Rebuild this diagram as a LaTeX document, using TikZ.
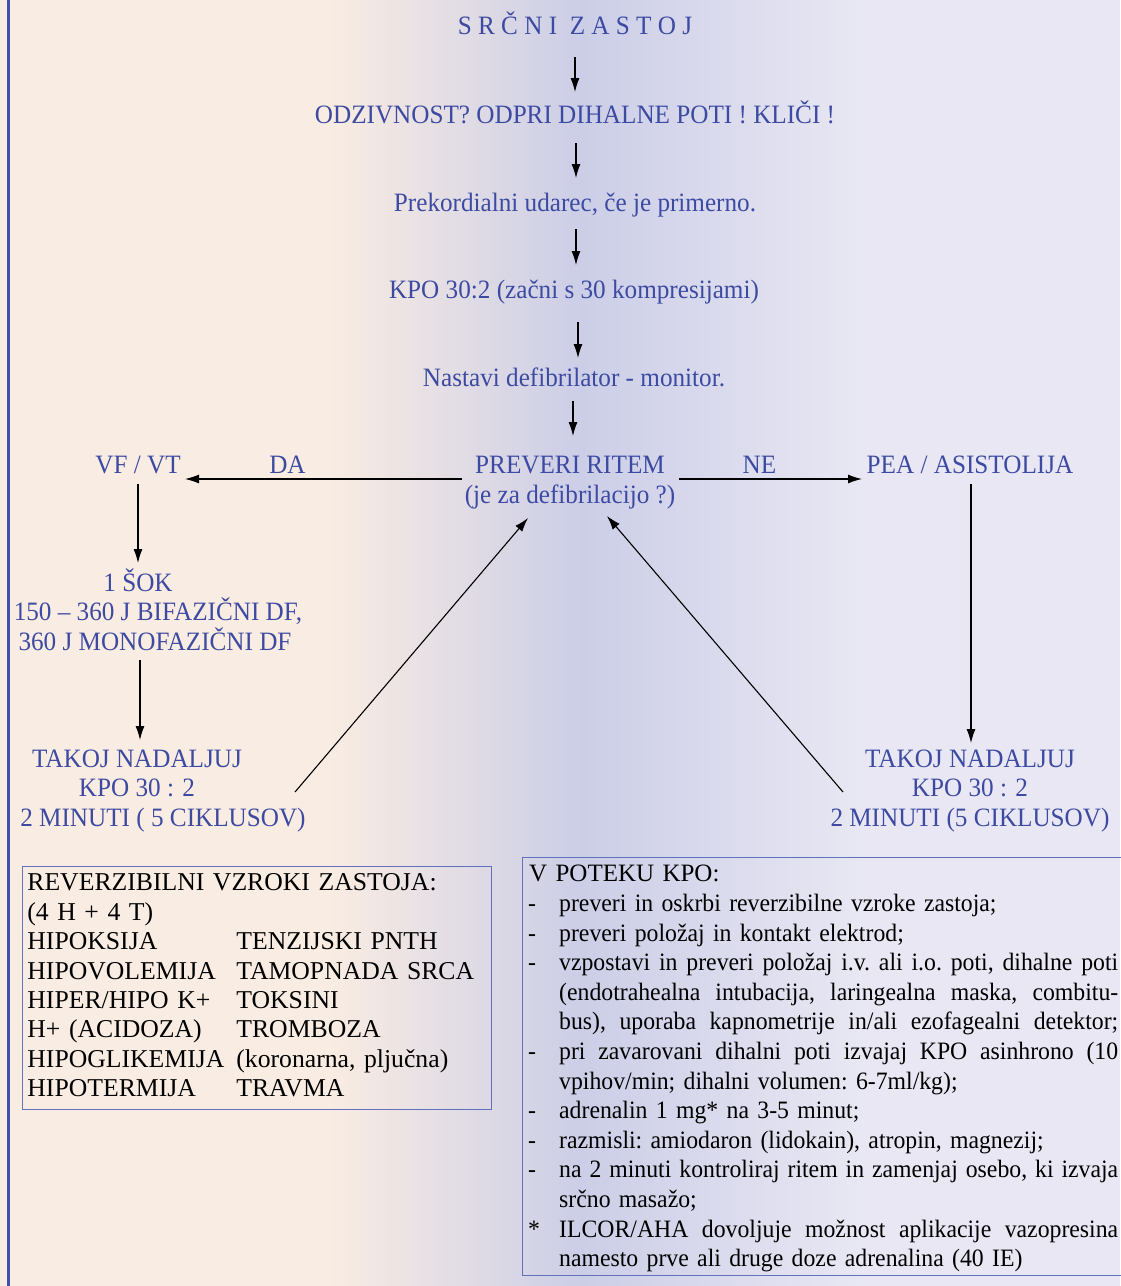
\documentclass[tikz,border=0pt]{standalone}
\usepackage{fontspec}
\setmainfont{Liberation Serif}
\newfontfamily\narrowserif[FakeStretch=0.95]{Liberation Serif}
\usetikzlibrary{arrows.meta,positioning}
\definecolor{flowblue}{RGB}{60,74,162}
\definecolor{peach}{RGB}{249,236,226}
\definecolor{lavdeep}{RGB}{204,206,231}
\definecolor{lavlight}{RGB}{232,231,243}
\definecolor{edgeblue}{RGB}{62,82,170}
\definecolor{boxblue}{RGB}{96,114,190}
\newcommand{\kpofull}[2]{\par\noindent\strut\makebox[35pt][l]{\hspace{4pt}#1}\hbox to 559pt{\spaceskip=.25em plus .6em minus .12em #2}}
\newcommand{\kpolast}[2]{\par\noindent\strut\makebox[35pt][l]{\hspace{4pt}#1}#2}

\begin{document}
\begin{tikzpicture}[x=1pt,y=-1pt,
  flow/.style={text=flowblue,font=\narrowserif\fontsize{26.5}{29.5}\selectfont,align=center,inner sep=0pt,anchor=base},
  arr/.style={-{Latex[length=14pt,width=9pt]},line width=1.1pt},
  boxtext/.style={font=\fontsize{25.7}{29.4}\selectfont,inner sep=0pt,anchor=north west}]
% background
\useasboundingbox (0,0) rectangle (1120,1286);
\fill[peach] (0,0) rectangle (331,1286);
\shade[left color=peach,right color=lavdeep] (330,0) rectangle (581,1286);
\shade[left color=lavdeep,right color=lavlight] (580,0) rectangle (861,1286);
\fill[lavlight] (860,0) rectangle (1120,1286);
\draw[edgeblue,line width=2.7pt] (8.7,0)--(8.7,1286);
% flow
\node[flow] (title) at (575,34) {S R Č N I \ Z A S T O J};
\node[flow] (check) at (575,123) {ODZIVNOST? ODPRI DIHALNE POTI ! KLIČI !};
\node[flow] (thump) at (575,211) {Prekordialni udarec, če je primerno.};
\node[flow] (cpr) at (574,298) {KPO 30:2 (začni s 30 kompresijami)};
\node[flow] (monitor) at (574,386) {Nastavi defibrilator - monitor.};
\node[flow] (rhythm) at (570,503) {PREVERI RITEM\\(je za defibrilacijo ?)};
\node[flow] (vfvt) at (138,473) {VF / VT};
\node[flow] (pea) at (970,473) {PEA / ASISTOLIJA};
\node[flow] (shock) at (158,650) {\mbox{1 ŠOK\hspace{40pt}}\\150 – 360 J BIFAZIČNI DF,\\\mbox{360 J MONOFAZIČNI DF\hspace{6pt}}};
\node[flow] (cprL) at (163,826) {\mbox{TAKOJ NADALJUJ\hspace{52pt}}\\\mbox{KPO 30 : 2\hspace{52pt}}\\2 MINUTI ( 5 CIKLUSOV)};
\node[flow] (cprR) at (970,826) {TAKOJ NADALJUJ\\KPO 30 : 2\\2 MINUTI (5 CIKLUSOV)};
\draw[arr] ([shift={(0,23)}]title.base)--([shift={(0,-31)}]check.base);
\draw[arr] ([shift={(1,20)}]check.base)--([shift={(1,-33)}]thump.base);
\draw[arr] ([shift={(1,18)}]thump.base)--([shift={(2,-33)}]cpr.base);
\draw[arr] ([shift={(4,24)}]cpr.base)--([shift={(4,-28)}]monitor.base);
\draw[arr] ([shift={(-1,15)}]monitor.base)--([shift={(3,-67)}]rhythm.base);
\draw[arr] ([shift={(-108,-24)}]rhythm.base)--([shift={(47,6)}]vfvt.base)
  node[flow,pos=0.63,yshift=6pt]{DA};
\draw[arr] ([shift={(109,-24)}]rhythm.base)--([shift={(-108,6)}]pea.base)
  node[flow,pos=0.44,yshift=6pt]{NE};
\draw[arr] ([shift={(0,11)}]vfvt.base)--([shift={(-20,-87)}]shock.base);
\draw[arr] ([shift={(-18,10)}]shock.base)--([shift={(-23,-86)}]cprL.base);
\draw[arr] ([shift={(1,11)}]pea.base)--([shift={(1,-83)}]cprR.base);
\draw[arr] ([shift={(132,-34)}]cprL.base)--([shift={(-42,15)}]rhythm.base);
\draw[arr] ([shift={(-127,-34)}]cprR.base)--([shift={(37,13)}]rhythm.base);
% boxes
\node[boxtext,draw=boxblue,line width=0.8pt,text width=459pt,inner xsep=5pt,inner ysep=4pt,minimum height=243pt] (causes) at (22,866) {%
\begin{tabular}{@{}p{209pt}@{}l@{}}
\multicolumn{2}{@{}l@{}}{REVERZIBILNI VZROKI ZASTOJA:}\\
\multicolumn{2}{@{}l@{}}{(4 H + 4 T)}\\
HIPOKSIJA & TENZIJSKI PNTH\\
HIPOVOLEMIJA & TAMOPNADA SRCA\\
HIPER/HIPO K+ & TOKSINI\\
H+ (ACIDOZA) & TROMBOZA\\
HIPOGLIKEMIJA & (koronarna, pljučna)\\
HIPOTERMIJA & TRAVMA
\end{tabular}};
\node[boxtext,text width=594pt,inner xsep=2pt,inner ysep=4pt,font=\narrowserif\fontsize{25}{29.6}\selectfont] (during) at (522,857) {%
\frenchspacing\noindent\strut\hspace*{5pt}{\rmfamily V POTEKU KPO:}
\kpolast{-}{preveri in oskrbi reverzibilne vzroke zastoja;}
\kpolast{-}{preveri položaj in kontakt elektrod;}
\kpofull{-}{vzpostavi in preveri položaj i.v. ali i.o. poti, dihalne poti}
\kpofull{}{(endotrahealna intubacija, laringealna maska, combitu-}
\kpofull{}{bus), uporaba kapnometrije in/ali ezofagealni detektor;}
\kpofull{-}{pri zavarovani dihalni poti izvajaj KPO asinhrono (10}
\kpolast{}{vpihov/min; dihalni volumen: 6-7ml/kg);}
\kpolast{-}{adrenalin 1 mg* na 3-5 minut;}
\kpolast{-}{razmisli: amiodaron (lidokain), atropin, magnezij;}
\kpofull{-}{na 2 minuti kontroliraj ritem in zamenjaj osebo, ki izvaja}
\kpolast{}{srčno masažo;}
\kpofull{*}{ILCOR/AHA dovoljuje možnost aplikacije vazopresina}
\kpolast{}{namesto prve ali druge doze adrenalina (40 IE)}};
\draw[boxblue,line width=0.8pt] (during.north west) rectangle ([xshift=20pt,yshift=4pt]during.south east);
\end{tikzpicture}
\end{document}
